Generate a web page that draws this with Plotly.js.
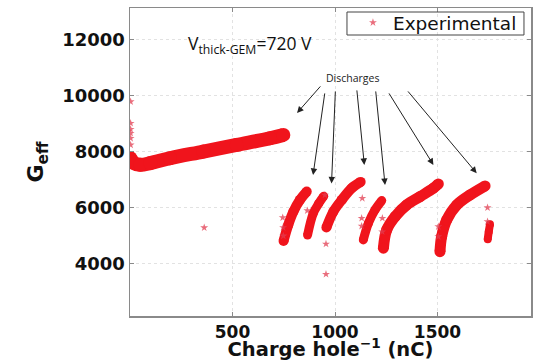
<!DOCTYPE html>
<html>
<head>
<meta charset="utf-8">
<script src="https://cdn.plot.ly/plotly-3.0.1.min.js"></script>
<style>html,body{margin:0;padding:0;background:#fff;}#chart{width:534px;height:361px;}</style>
</head>
<body>
<div id="chart"></div>
<script>
// Centre lines of the dense point bands (charge hole^-1 in nC, G_eff)
const mainX = [2, 15, 50, 100, 195, 358, 520, 683, 748];
const mainY = [7780, 7620, 7540, 7600, 7775, 8011, 8250, 8489, 8607];
const segAX = [749, 772, 797, 829, 862];
const segAY = [4820, 5393, 5868, 6286, 6582];
const segBX = [866, 894, 920, 945];
const segBY = [5030, 5811, 6150, 6420];
const segCX = [958, 992, 1033, 1081, 1125];
const segCY = [5300, 5868, 6286, 6704, 6930];
const segDX = [1138, 1163, 1195, 1228];
const segDY = [4857, 5454, 5929, 6261];
const segEX = [1236, 1252, 1293, 1350, 1415, 1480, 1504];
const segEY = [4561, 5214, 5689, 6107, 6404, 6704, 6857];
const segFX = [1512, 1520, 1545, 1594, 1659, 1732];
const segFY = [4439, 4975, 5571, 6107, 6464, 6786];
const segGX = [1745, 1750, 1756];
const segGY = [4880, 5150, 5420];
// Isolated measurement points
const ptX = [3, 3, 3, 3, 3, 3, 362, 745, 747, 748, 865, 951, 956, 956, 1133, 1130, 1130, 1231, 1230, 1504, 1504, 1744, 1744];
const ptY = [9796, 9025, 8811, 8668, 8489, 8250, 5296, 5654, 5300, 5000, 5904, 6464, 4714, 3632, 6346, 5632, 5350, 5632, 5150, 5332, 4975, 6011, 5511];
const xTicks = [500, 1000, 1500];
const yTicks = [4000, 6000, 8000, 10000, 12000];
const seriesName = 'Experimental';

const red = '#f0141c';
function band(x, y, w) {
  return {x: x, y: y, type: 'scatter', mode: 'lines+markers', showlegend: false, hoverinfo: 'skip',
    line: {color: red, width: w, shape: 'spline'}, marker: {color: red, size: w}};
}
const traces = [
  band(mainX, mainY, 14),
  band(segAX, segAY, 10), band(segBX, segBY, 9), band(segCX, segCY, 10),
  band(segDX, segDY, 9), band(segEX, segEY, 11), band(segFX, segFY, 11), band(segGX, segGY, 8),
  {x: ptX, y: ptY, type: 'scatter', mode: 'markers', name: seriesName, showlegend: true,
   marker: {symbol: 'star', size: 6, color: 'rgba(225,60,80,0.75)', line: {width: 0}}}
];

const fnt = 'DejaVu Sans, Arial, sans-serif';
function arrow(hx, hy, tx, ty) {
  return {x: hx, y: hy, ax: tx, ay: ty, xref: 'x', yref: 'y', axref: 'x', ayref: 'y', text: '',
    showarrow: true, arrowhead: 2, arrowsize: 1.3, arrowwidth: 1, arrowcolor: '#222'};
}
const layout = {
  width: 534, height: 361,
  margin: {l: 130, r: 3, t: 8, b: 45},
  paper_bgcolor: '#fff', plot_bgcolor: '#fff',
  showlegend: true,
  xaxis: {range: [0, 1956], tickvals: xTicks, ticktext: xTicks.map(String),
    tickfont: {family: fnt, size: 17, color: '#111', weight: 'bold'},
    showgrid: true, gridcolor: '#e2e2e2', griddash: 'dot', gridwidth: 1,
    showline: true, linecolor: '#8a8a8a', linewidth: 1.5, mirror: 'ticks',
    ticks: 'inside', ticklen: 4, tickcolor: '#8a8a8a', zeroline: false,
    title: {text: 'Charge hole<sup>\u22121</sup> (nC)', font: {family: fnt, size: 19.5, color: '#111', weight: 'bold'}, standoff: 9}},
  yaxis: {range: [2140, 13140], tickvals: yTicks, ticktext: yTicks.map(String),
    tickfont: {family: fnt, size: 18, color: '#111', weight: 'bold'},
    showgrid: true, gridcolor: '#e2e2e2', griddash: 'dot', gridwidth: 1,
    showline: true, linecolor: '#8a8a8a', linewidth: 1.5, mirror: 'ticks',
    ticks: 'inside', ticklen: 4, tickcolor: '#8a8a8a', zeroline: false,
    title: {text: 'G<sub>eff</sub>', font: {family: fnt, size: 22, color: '#111', weight: 'bold'}, standoff: 12}},
  legend: {x: 0.556, xanchor: 'left', y: 1.013, yanchor: 'top', bgcolor: 'rgba(0,0,0,0)',
    borderwidth: 0, font: {family: fnt, size: 18.5, color: '#111'},
    tracegroupgap: 0, itemwidth: 30},
  shapes: [
    {type: 'rect', xref: 'paper', yref: 'paper', x0: 0.5411, x1: 0.9825, y0: 0.9123, y1: 0.987,
     line: {color: '#444', width: 1}, fillcolor: 'rgba(0,0,0,0)', layer: 'above'}
  ],
  annotations: [
    {x: 585, y: 11821, xref: 'x', yref: 'y', showarrow: false,
     text: 'V<sub>thick-GEM</sub>=720 V', font: {family: 'Open Sans, sans-serif', size: 17.5, color: '#111'}},
    {x: 1083, y: 10643, xref: 'x', yref: 'y', showarrow: false,
     text: 'Discharges', font: {family: 'Open Sans, sans-serif', size: 10.5, color: '#222'}},
    arrow(815, 9393, 935, 10393),
    arrow(893, 7179, 951, 10143),
    arrow(983, 6875, 1002, 10214),
    arrow(1143, 7536, 1106, 10250),
    arrow(1244, 6821, 1198, 10214),
    arrow(1480, 7536, 1259, 10143),
    arrow(1691, 7239, 1350, 10214)
  ]
};
Plotly.newPlot('chart', traces, layout, {displayModeBar: false, staticPlot: true});
</script>
</body>
</html>
